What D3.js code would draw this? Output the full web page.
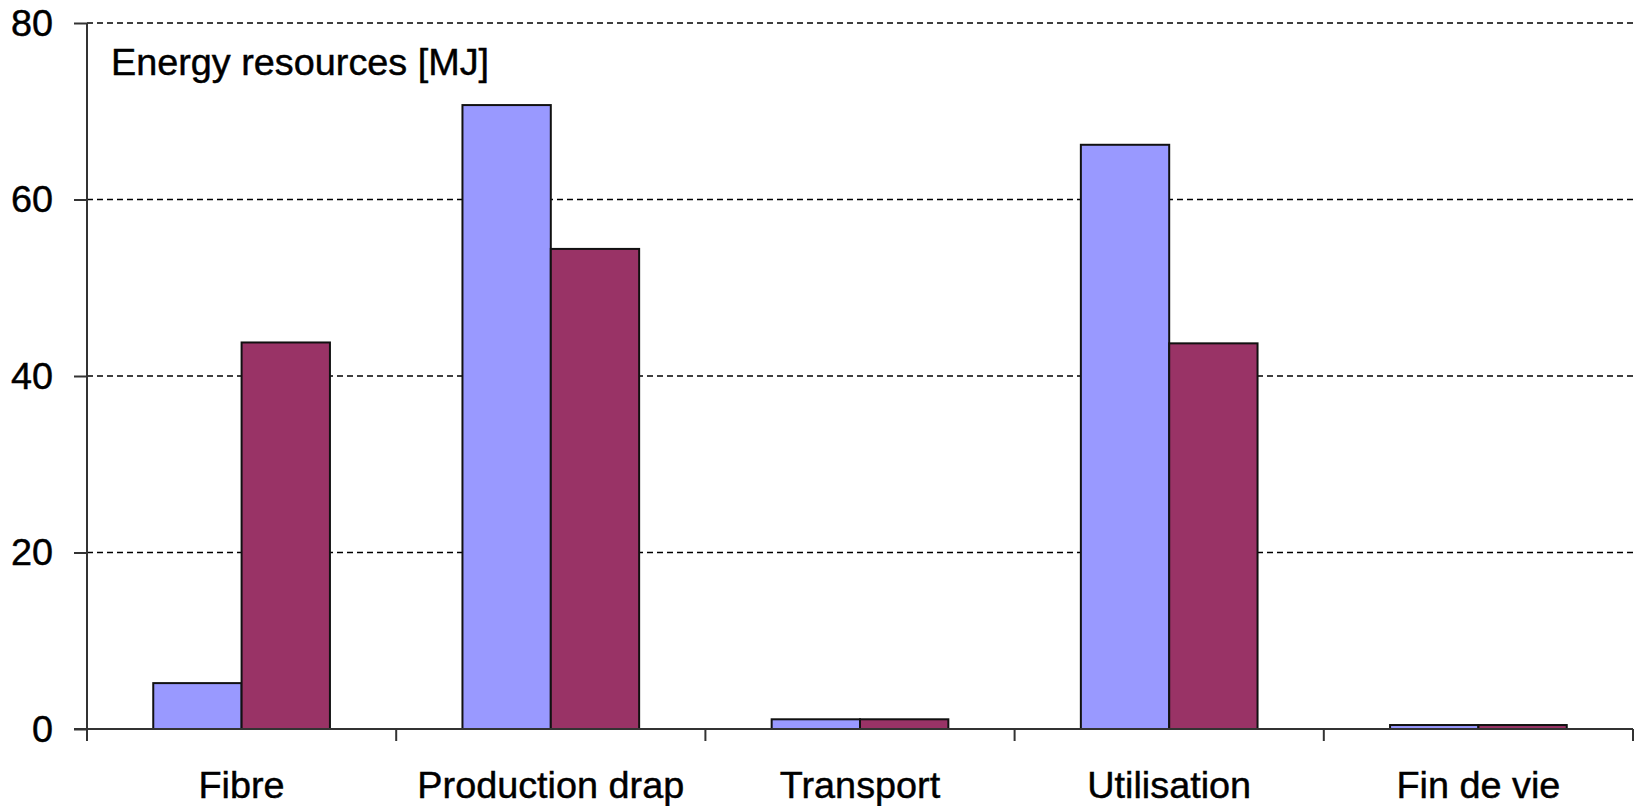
<!DOCTYPE html>
<html>
<head>
<meta charset="utf-8">
<script src="https://cdn.jsdelivr.net/npm/d3@7"></script>
<style>
  html, body { margin: 0; padding: 0; background: #fff; }
  svg { display: block; }
  text { font-family: "Liberation Sans", Arial, sans-serif; fill: #000; stroke: #000; stroke-width: 0.45px; }
</style>
</head>
<body>
<svg id="chart" width="1642" height="806"></svg>
<script>
// Energy resources per life-cycle stage, two scenarios
const categories = ["Fibre", "Production drap", "Transport", "Utilisation", "Fin de vie"];
const seriesA = [5.2, 70.7, 1.1, 66.2, 0.45];
const seriesB = [43.8, 54.4, 1.1, 43.7, 0.45];
const yTicks = [0, 20, 40, 60, 80];
const yTitle = "Energy resources [MJ]";
const colors = ["#9999FF", "#993366"];

const svg = d3.select("#chart");
const plotLeft = 87, plotRight = 1633, plotTop = 23, plotBottom = 729;
const fontSize = "37.8px";

const x = d3.scaleBand().domain(categories).range([plotLeft, plotRight]).paddingInner(0).paddingOuter(0);
const gapRatio = 1.5; // gap between groups relative to a bar width
const barW = x.bandwidth() / (2 + gapRatio);
const xSub = d3.scaleBand().domain([0, 1]).range([0, 2 * barW]);

const y = d3.scaleLinear().domain([0, 80]).range([plotBottom, plotTop]);

// dashed gridlines
svg.append("g")
  .selectAll("line")
  .data(yTicks.filter(d => d > 0))
  .join("line")
  .attr("x1", plotLeft).attr("x2", plotRight)
  .attr("y1", d => y(d)).attr("y2", d => y(d))
  .attr("stroke", "#000")
  .attr("stroke-width", 1.6)
  .attr("stroke-dasharray", "6,4");

// bars
const rows = categories.map((c, i) => ({ c, vals: [seriesA[i], seriesB[i]] }));
const groups = svg.append("g").selectAll("g")
  .data(rows)
  .join("g")
  .attr("transform", d => `translate(${x(d.c) + (x.bandwidth() - 2 * barW) / 2},0)`);

groups.selectAll("rect")
  .data(d => d.vals.map((v, k) => ({ v, k })))
  .join("rect")
  .attr("x", d => xSub(d.k))
  .attr("width", barW)
  .attr("y", d => y(d.v))
  .attr("height", d => y(0) - y(d.v))
  .attr("fill", d => colors[d.k])
  .attr("stroke", "#111")
  .attr("stroke-width", 2);

// y axis
const yAxis = d3.axisLeft(y).tickValues(yTicks).tickSize(13).tickPadding(21).tickFormat(d3.format("d"));
const gy = svg.append("g").attr("transform", `translate(${plotLeft},0)`).call(yAxis);
gy.select(".domain").remove();
gy.append("line").attr("x1", 0).attr("x2", 0).attr("y1", plotTop).attr("y2", plotBottom + 12)
  .attr("stroke", "#333").attr("stroke-width", 2);
gy.selectAll(".tick line").attr("stroke", "#333").attr("stroke-width", 2);
gy.selectAll(".tick text").style("font-size", fontSize).attr("fill", "#000");

// x axis
const gx = svg.append("g").attr("transform", `translate(0,${plotBottom})`);
gx.append("line").attr("x1", plotLeft - 13).attr("x2", plotRight).attr("y1", 0).attr("y2", 0)
  .attr("stroke", "#333").attr("stroke-width", 2);
const boundaries = categories.map(c => x(c)).concat([x(categories[categories.length - 1]) + x.bandwidth()]);
gx.selectAll("line.tk")
  .data(boundaries)
  .join("line")
  .attr("class", "tk")
  .attr("x1", d => d).attr("x2", d => d)
  .attr("y1", 0).attr("y2", 12)
  .attr("stroke", "#333").attr("stroke-width", 2);
gx.selectAll("text")
  .data(categories)
  .join("text")
  .attr("x", d => x(d) + x.bandwidth() / 2)
  .attr("y", 69)
  .attr("text-anchor", "middle")
  .style("font-size", fontSize)
  .text(d => d);

// axis title inside the plot
svg.append("text")
  .attr("x", 111)
  .attr("y", 75)
  .style("font-size", fontSize)
  .text(yTitle);
</script>
</body>
</html>
